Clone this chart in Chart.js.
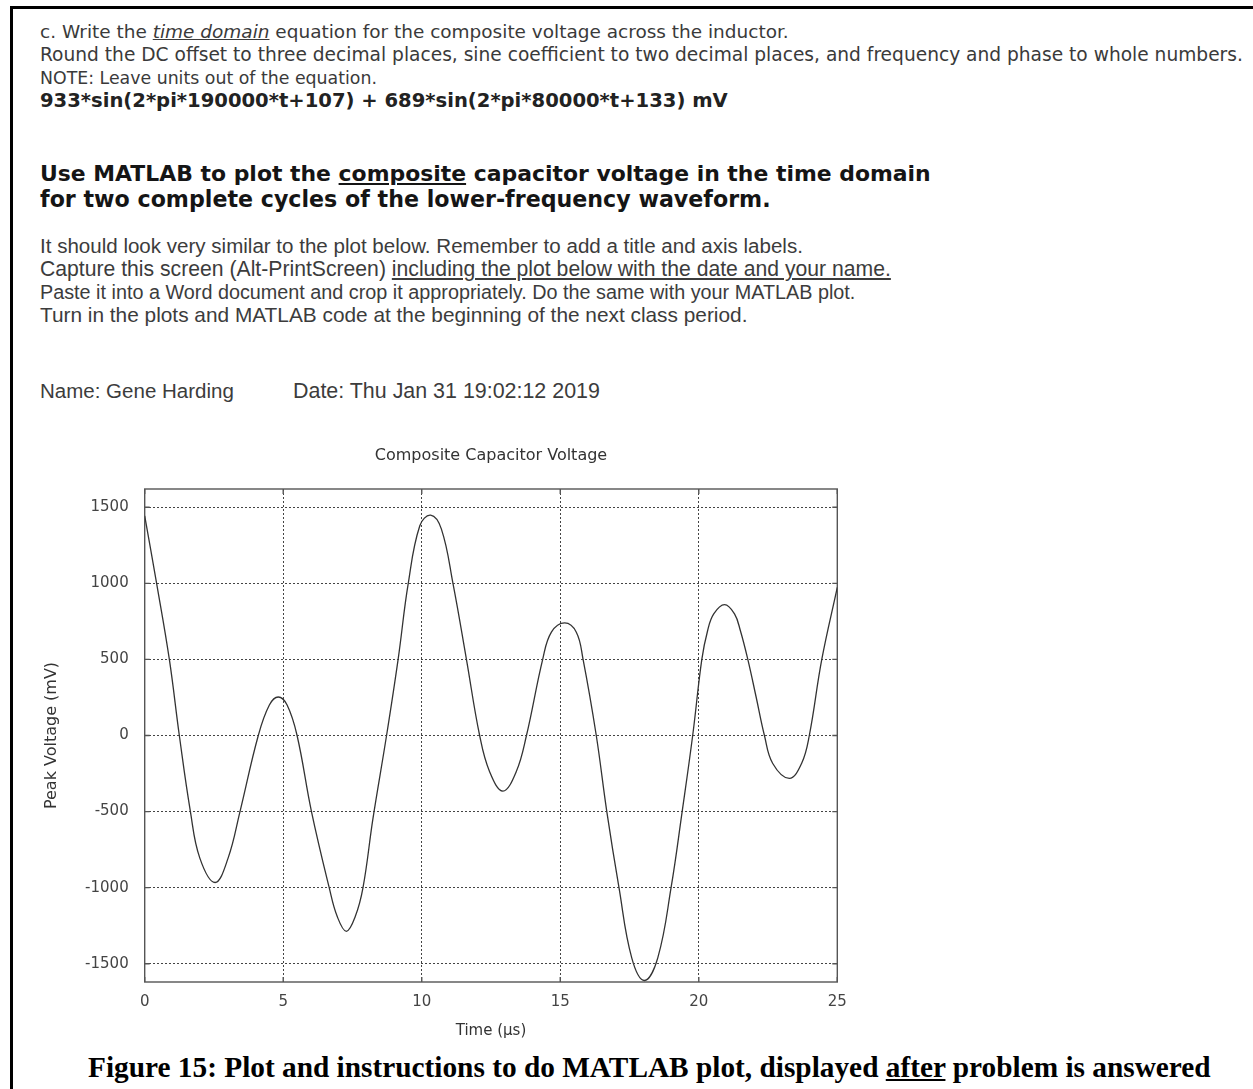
<!DOCTYPE html>
<html>
<head>
<meta charset="utf-8">
<script src="https://cdn.jsdelivr.net/npm/chart.js@4/dist/chart.umd.min.js"></script>
<style>
  html, body { margin: 0; padding: 0; background: #fff; }
  body { width: 1253px; height: 1089px; position: relative; overflow: hidden; font-family: "DejaVu Sans", Verdana, sans-serif; }
  .frame { position: absolute; left: 10px; top: 6px; width: 1300px; height: 1200px; border-top: 3px solid #000; border-left: 3px solid #000; }
  .ln { position: absolute; left: 40px; white-space: nowrap; line-height: 20px; color: #3a3a3a; font-size: 15px; }
  .eq { font-weight: bold; color: #222; }
  .hd { font-weight: bold; color: #151515; font-size: 20px; line-height: 24px; }
  .pr { font-family: "Liberation Sans", Arial, sans-serif; font-size: 15px; color: #3c3c3c; }
  .cap { font-family: "Liberation Serif", "Times New Roman", serif; font-weight: bold; font-size: 24px; line-height: 28px; color: #000; }
  #wrap { position: absolute; left: 42px; top: 430px; }
</style>
</head>
<body>
<div class="frame"></div>

<div class="ln" style="top:22px" data-w="749">c. Write the <u><i>time domain</i></u> equation for the composite voltage across the inductor.</div>
<div class="ln" style="top:45px" data-w="1203">Round the DC offset to three decimal places, sine coefficient to two decimal places, and frequency and phase to whole numbers.</div>
<div class="ln" style="top:68px" data-w="337">NOTE: Leave units out of the equation.</div>
<div class="ln eq" style="top:91px" data-w="688">933*sin(2*pi*190000*t+107) + 689*sin(2*pi*80000*t+133) mV</div>

<div class="ln hd" style="top:162px" data-w="891">Use MATLAB to plot the <u>composite</u> capacitor voltage in the time domain</div>
<div class="ln hd" style="top:187px" data-w="731">for two complete cycles of the lower-frequency waveform.</div>

<div class="ln pr" style="top:236px" data-w="763">It should look very similar to the plot below. Remember to add a title and axis labels.</div>
<div class="ln pr" style="top:259px" data-w="851">Capture this screen (Alt-PrintScreen) <u>including the plot below with the date and your name.</u></div>
<div class="ln pr" style="top:282px" data-w="816">Paste it into a Word document and crop it appropriately. Do the same with your MATLAB plot.</div>
<div class="ln pr" style="top:305px" data-w="708">Turn in the plots and MATLAB code at the beginning of the next class period.</div>

<div class="ln pr" style="top:381px" data-w="194">Name: Gene Harding</div>
<div class="ln pr" style="top:381px; left:293px" data-w="307">Date: Thu Jan 31 19:02:12 2019</div>

<div id="wrap"><canvas id="grafica" width="818" height="610"></canvas></div>

<div class="ln cap" style="top:1053px; left:88px" data-w="1123">Figure 15: Plot and instructions to do MATLAB plot, displayed <u>after</u> problem is answered</div>

<script>
// Valores (tiempo en µs, voltaje en mV)
const tiempoUs = [0, 0.43, 0.89, 1.25, 1.65, 1.99, 2.54, 3.01, 3.44,
  4.10, 4.50, 4.82, 5.14, 5.50, 6.02, 6.66, 6.95, 7.28, 7.60,
  7.88, 8.24, 8.73, 9.15, 9.51, 9.93, 10.32, 10.71, 11.13, 11.61,
  12.09, 12.45, 12.93, 13.41, 13.78, 14.37, 14.68, 15.16, 15.58, 15.82,
  16.30, 16.68, 17.12, 17.58, 18.04, 18.52, 19.00, 19.40, 19.78, 20.11,
  20.32, 20.54, 20.93, 21.29, 21.50, 21.77, 22.07, 22.37, 22.67, 23.27,
  23.71, 23.99, 24.44, 25];
const voltajeMv = [1444, 1000, 500, 0, -500, -806, -966, -806, -500,
  0, 200, 253, 200, 0, -500, -1000, -1190, -1287, -1190,
  -1000, -545, 0, 504, 996, 1378, 1448, 1356, 996, 504,
  0, -238, -365, -238, 0, 504, 679, 740, 679, 504,
  0, -500, -1000, -1461, -1610, -1461, -1000, -500, 0, 500,
  690, 799, 860, 799, 690, 500, 253, 0, -184, -282,
  -184, 0, 500, 974];
const ticksX = [0, 5, 10, 15, 20, 25];
const ticksY = [-1500, -1000, -500, 0, 500, 1000, 1500];

// Ajustar el tamaño de letra de cada línea al ancho medido
document.querySelectorAll('[data-w]').forEach(el => {
  const objetivo = +el.dataset.w;
  const real = el.getBoundingClientRect().width;
  const tam = parseFloat(getComputedStyle(el).fontSize);
  el.style.fontSize = (tam * objetivo / real).toFixed(2) + 'px';
});

// Marco y marcas de graduación hacia dentro, estilo Octave
const marco = {
  id: 'marco',
  beforeDatasetsDraw(chart) {
    const { ctx, chartArea: a, scales } = chart;
    ctx.save();
    ctx.strokeStyle = '#555';
    ctx.lineWidth = 1.4;
    ctx.strokeRect(a.left, a.top, a.right - a.left, a.bottom - a.top);
    ctx.beginPath();
    ticksX.forEach(v => {
      const x = scales.x.getPixelForValue(v);
      ctx.moveTo(x, a.bottom); ctx.lineTo(x, a.bottom - 5);
      ctx.moveTo(x, a.top); ctx.lineTo(x, a.top + 5);
    });
    ticksY.forEach(v => {
      const y = scales.y.getPixelForValue(v);
      ctx.moveTo(a.left, y); ctx.lineTo(a.left + 5, y);
      ctx.moveTo(a.right, y); ctx.lineTo(a.right - 5, y);
    });
    ctx.stroke();
    ctx.restore();
  }
};

const ctx = document.getElementById('grafica').getContext('2d');
const familia = '"DejaVu Sans", sans-serif';

new Chart(ctx, {
  type: 'line',
  data: {
    datasets: [{
      data: tiempoUs.map((t, i) => ({ x: t, y: voltajeMv[i] })),
      borderColor: '#333',
      borderWidth: 1.3,
      pointRadius: 0,
      fill: false,
      tension: 0.4
    }]
  },
  options: {
    responsive: false,
    animation: false,
    devicePixelRatio: 1,
    layout: { padding: { left: 0, right: 22.7, top: 0, bottom: 0 } },
    plugins: {
      legend: { display: false },
      tooltip: { enabled: false },
      title: {
        display: true,
        fullSize: false,
        text: 'Composite Capacitor Voltage',
        color: '#333',
        font: { family: familia, size: 16, weight: 'normal' },
        padding: { top: 16.4, bottom: 23.4 }
      }
    },
    scales: {
      x: {
        type: 'linear',
        min: 0,
        max: 25,
        afterBuildTicks: s => { s.ticks = ticksX.map(v => ({ value: v })); },
        afterFit: s => { s.height = 58; },
        grid: { color: '#444', lineWidth: 1, drawTicks: false },
        border: { display: false, dash: [2, 2] },
        ticks: { color: '#444', font: { family: familia, size: 15 }, padding: 11, maxRotation: 0, callback: v => String(v) },
        title: { display: true, text: 'Time (µs)', color: '#333', font: { family: familia, size: 15 }, padding: 0 }
      },
      y: {
        min: -1620,
        max: 1620,
        afterBuildTicks: s => { s.ticks = ticksY.map(v => ({ value: v })); },
        afterFit: s => { s.width = 102.7; },
        grid: { color: '#444', lineWidth: 1, drawTicks: false },
        border: { display: false, dash: [2, 2] },
        ticks: { color: '#444', font: { family: familia, size: 15 }, padding: 16, callback: v => String(v) },
        title: { display: true, text: 'Peak Voltage (mV)', color: '#333', font: { family: familia, size: 16 }, padding: 0 }
      }
    }
  },
  plugins: [marco]
});
</script>
</body>
</html>
